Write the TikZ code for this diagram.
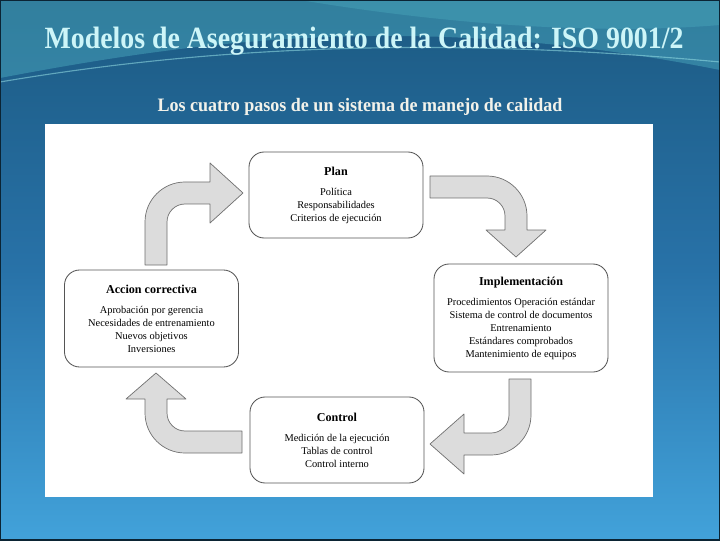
\documentclass[tikz,border=0pt]{standalone}
\usepackage{fontspec}
\setmainfont{Liberation Serif}
\usetikzlibrary{positioning}
\definecolor{bgtop}{HTML}{1C5A82}
\definecolor{bgmid}{HTML}{2872A8}
\definecolor{bgbot}{HTML}{42A2DA}
\definecolor{wave}{HTML}{5CC6D2}
\definecolor{titlecol}{HTML}{CDF5F8}
\definecolor{subcol}{HTML}{F2F2EA}
\definecolor{boxline}{HTML}{555555}
\definecolor{arrfill}{HTML}{DCDCDC}
\definecolor{arrline}{HTML}{707070}
\newcommand{\pasotit}[1]{{\fontsize{8.6}{9.25}\selectfont\bfseries #1}\\[4.9pt]}

\begin{document}
\begin{tikzpicture}[
  x=0.025cm, y=0.025cm,
  line join=round,
  paso/.style = {draw=boxline, line width=0.6pt, fill=white,
                 rounded corners=0.38cm, minimum width=4.35cm,
                 inner sep=0pt, align=center,
                 font=\fontsize{7.4}{9.25}\selectfont},
  flecha/.style = {draw=arrline, line width=0.5pt, fill=arrfill},
  header/.style = {color=titlecol, font=\fontsize{22}{24}\selectfont\bfseries},
  subhdr/.style = {color=subcol, font=\fontsize{13.5}{15}\selectfont\bfseries}
]
\useasboundingbox (0,0) rectangle (720,540);

% fondo
\shade[top color=bgtop, bottom color=bgbot, middle color=bgmid] (0,0) rectangle (720,540);
\fill[wave, opacity=0.35] (0,540) -- (0,462) .. controls (200,500) and (420,530) .. (720,470)
  -- (720,540) -- cycle;
\fill[wave, opacity=0.25] (300,540) .. controls (450,515) and (600,505) .. (720,515)
  -- (720,540) -- cycle;
\draw[wave!70!white, opacity=0.6, line width=0.8pt]
  (0,458) .. controls (200,492) and (430,505) .. (720,478);
\draw[black!60!bgtop, line width=1.2pt] (0,0) rectangle (720,540);

% titulos
\node[header] (titulo) at (364,499) {\scalebox{0.9}[1]{Modelos de Aseguramiento de la Calidad: ISO 9001/2}};
\node[subhdr] (subtitulo) at (360,433) {\scalebox{0.95}[1]{Los cuatro pasos de un sistema de manejo de calidad}};

% panel blanco
\fill[white] (45,43) rectangle (653,416);

% los cuatro pasos
\node[paso, minimum height=2.15cm] (plan) at (336,345)
  {\pasotit{Plan} Política\\ Responsabilidades\\ Criterios de ejecución};
\node[paso, minimum height=2.7cm] (impl) at (521,222)
  {\pasotit{Implementación} Procedimientos Operación estándar\\ Sistema de control de documentos\\
   Entrenamiento\\ Estándares comprobados\\ Mantenimiento de equipos};
\node[paso, minimum height=2.15cm] (control) at (337,100)
  {\pasotit{Control} Medición de la ejecución\\ Tablas de control\\ Control interno};
\node[paso, minimum height=2.425cm] (accion) at (151.5,221.5)
  {\pasotit{Accion correctiva} Aprobación por gerencia\\ Necesidades de entrenamiento\\
   Nuevos objetivos\\ Inversiones};

% flechas curvas
\draw[flecha] (145,275) -- (145,318) arc[start angle=180, end angle=90, radius=40]
  -- (210,358) -- (210,377) -- (243,347) -- (210,317) -- (210,336) -- (185,336)
  arc[start angle=90, end angle=180, radius=18] -- (167,275) -- cycle;
\draw[flecha] (430,364) -- (487,364) arc[start angle=90, end angle=0, radius=40]
  -- (527,310) -- (546,310) -- (516,283) -- (486,310) -- (505,310) -- (505,324)
  arc[start angle=0, end angle=90, radius=18] -- (430,342) -- cycle;
\draw[flecha] (531,161) -- (531,125) arc[start angle=0, end angle=-90, radius=40]
  -- (464,85) -- (464,66) -- (430,96) -- (464,126) -- (464,107) -- (491,107)
  arc[start angle=-90, end angle=0, radius=18] -- (509,161) -- cycle;
\draw[flecha] (242,87) -- (185,87) arc[start angle=270, end angle=180, radius=40]
  -- (145,141) -- (126,141) -- (156,167) -- (186,141) -- (167,141) -- (167,127)
  arc[start angle=180, end angle=270, radius=18] -- (242,109) -- cycle;

\end{tikzpicture}
\end{document}
